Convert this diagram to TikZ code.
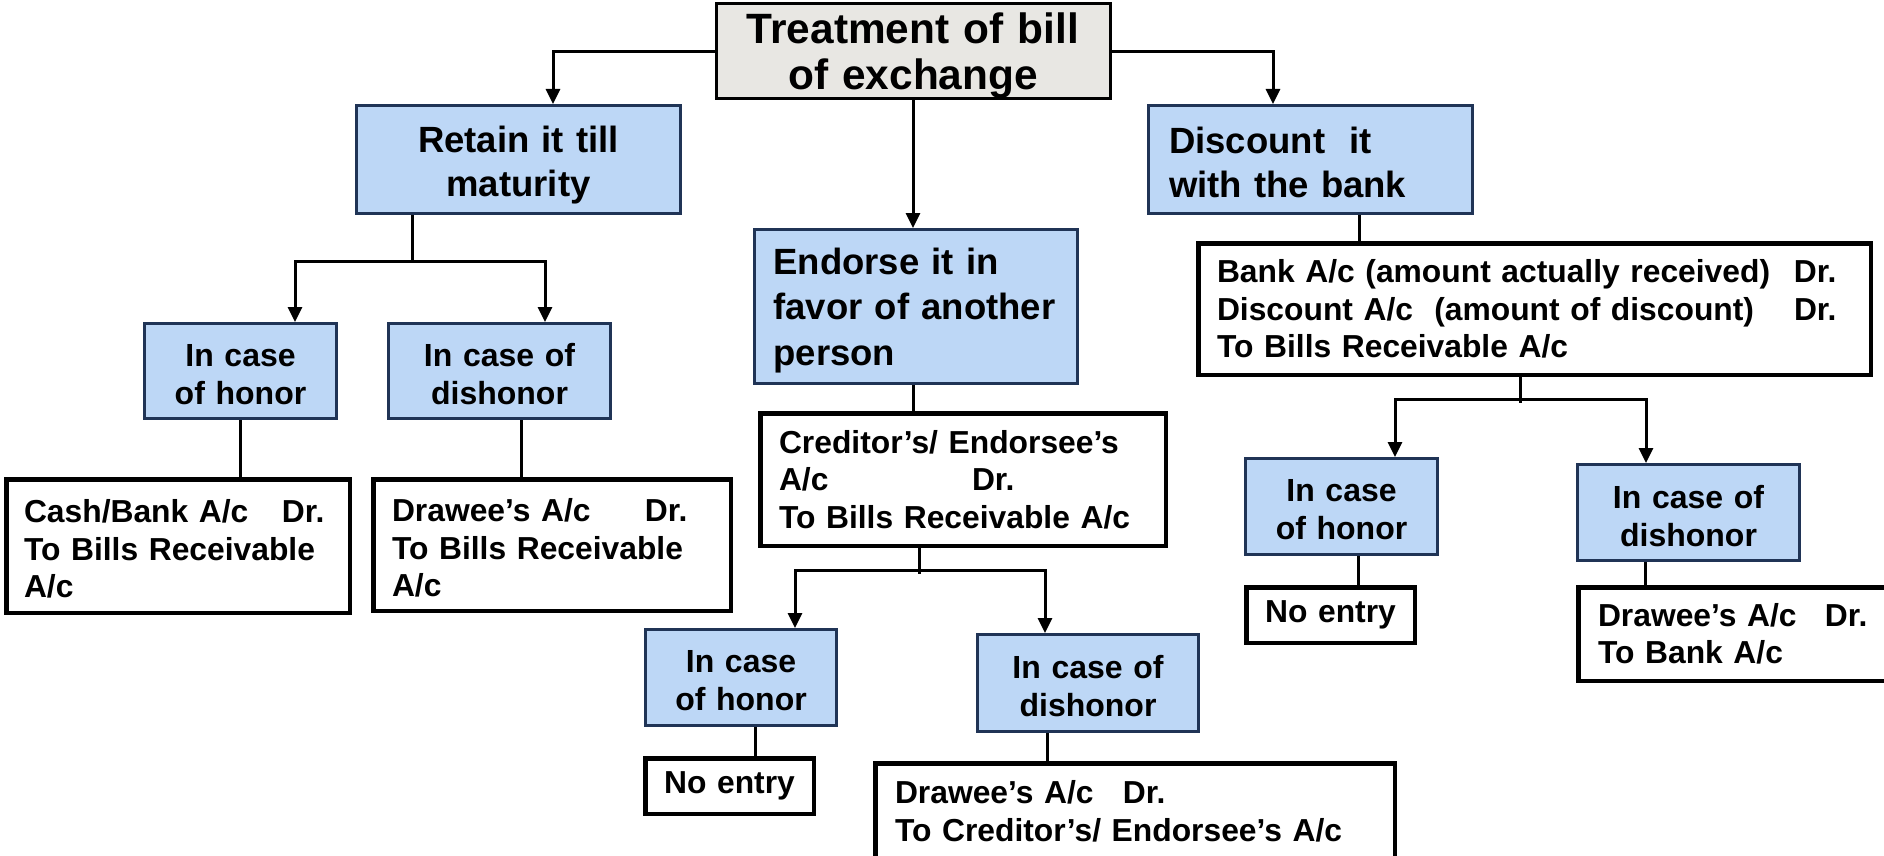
\documentclass[tikz,border=0pt]{standalone}
\usepackage{fontspec}
\setmainfont{Liberation Sans}
\usetikzlibrary{arrows.meta}
\definecolor{boxblue}{RGB}{189,215,246}
\definecolor{boxedge}{RGB}{32,52,86}
\definecolor{rootgray}{RGB}{232,231,227}
\newcommand\myfroot{\fontsize{42.4pt}{46pt}\selectfont}
\newcommand\myfone{\fontsize{36.5pt}{44pt}\selectfont}
\newcommand\myftwo{\fontsize{36.5pt}{45.5pt}\selectfont}
\newcommand\myfcase{\fontsize{32pt}{38pt}\selectfont}
\newcommand\myfent{\fontsize{31.8pt}{37.5pt}\selectfont}
\begin{document}
\begin{tikzpicture}[x=1pt,y=-1pt,
  rootbox/.style={draw=black, line width=3pt, fill=rootgray, align=center, inner ysep=0pt, font=\bfseries\myfroot},
  mainbox/.style={draw=boxedge, line width=3pt, fill=boxblue, inner ysep=0pt, font=\bfseries\myfone},
  casebox/.style={draw=boxedge, line width=3pt, fill=boxblue, inner ysep=0pt, inner xsep=10pt, align=center, text depth=32pt, font=\bfseries\myfcase},
  entrybox/.style={draw=black, line width=4.5pt, fill=white, inner ysep=0pt, align=left, font=\bfseries\myfent},
  noentrybox/.style={entrybox, align=center, inner xsep=9pt, text width=150pt},
  link/.style={line width=3pt, draw=black},
  arrowlink/.style={link, -{Triangle[length=15pt,width=14pt]}},
]
\useasboundingbox (0,0) rectangle (1884,856);
\fill[white] (0,0) rectangle (1884,856);
\clip (0,0) rectangle (1884,856);

% top level
\node[rootbox, minimum width=394pt, minimum height=95pt, text width=370pt, inner xsep=12pt, text depth=47pt] (root) at (913,51.5) {Treatment of bill\\of exchange};

% level one
\node[mainbox, align=center, minimum width=324pt, minimum height=108pt, text width=300pt, inner xsep=12pt, text depth=39.7pt] (retain) at (518.5,159.5) {Retain it till\\maturity};
\node[mainbox, align=left, minimum width=324pt, minimum height=108pt, text width=282pt, inner xsep=21pt, text depth=38pt] (discount) at (1310,159.5) {Discount~~it\\with the bank};
\node[mainbox, font=\bfseries\myftwo, align=left, minimum width=323pt, minimum height=154pt, text width=285pt, inner xsep=19pt, text depth=90.7pt] (endorse) at (916,306.5) {Endorse it in\\favor of another\\person};

% retain branch
\node[casebox, minimum width=192pt, minimum height=95pt, text width=170pt] (honor1) at (240.5,371) {In case\\of honor};
\node[casebox, minimum width=222pt, minimum height=95pt, text width=200pt] (dishonor1) at (499.5,371) {In case of\\dishonor};
\node[entrybox, minimum width=343.5pt, minimum height=133.5pt, text width=308pt, inner xsep=17.75pt, text depth=70pt] (entry1) at (178,546) {\makebox[258pt][l]{Cash/Bank A/c}Dr.\\To Bills Receivable\\A/c};
\node[entrybox, minimum width=357.5pt, minimum height=131.5pt, text width=320pt, inner xsep=18.75pt, text depth=70pt] (entry2) at (552,545) {\makebox[253pt][l]{Drawee’s A/c}Dr.\\To Bills Receivable\\A/c};

% endorse branch
\node[entrybox, minimum width=405.5pt, minimum height=132.5pt, text width=368pt, inner xsep=18.75pt] (entryE) at (963,479.5) {Creditor’s/ Endorsee’s\\\makebox[193pt][l]{A/c}Dr.\\To Bills Receivable A/c};
\node[casebox, minimum width=191pt, minimum height=96pt, text width=170pt] (honor2) at (741,677.5) {In case\\of honor};
\node[casebox, minimum width=221pt, minimum height=97pt, text width=200pt] (dishonor2) at (1088,683) {In case of\\dishonor};
\node[noentrybox, minimum width=168.5pt, minimum height=55.5pt] (noentry2) at (729.5,786) {No entry};
\node[entrybox, minimum width=519.5pt, minimum height=96.5pt, text width=480pt, inner xsep=19.75pt] (entry2b) at (1135,811.5) {\makebox[228pt][l]{Drawee’s A/c}Dr.\\To Creditor’s/ Endorsee’s A/c};

% discount branch
\node[entrybox, minimum width=672.5pt, minimum height=131.5pt, text width=635pt, inner xsep=18.75pt] (entryD) at (1534.5,309) {\makebox[577pt][l]{Bank A/c (amount actually received)}Dr.\\\makebox[577pt][l]{Discount A/c~~(amount of discount)}Dr.\\To Bills Receivable A/c};
\node[casebox, minimum width=192pt, minimum height=96pt, text width=170pt] (honor3) at (1341.5,506.5) {In case\\of honor};
\node[casebox, minimum width=222pt, minimum height=96pt, text width=200pt] (dishonor3) at (1688.5,512.5) {In case of\\dishonor};
\node[noentrybox, minimum width=168.5pt, minimum height=55.5pt] (noentry3) at (1330.5,615) {No entry};
\node[entrybox, minimum width=319.5pt, minimum height=93.5pt, text width=280pt, inner xsep=19.75pt] (entry3) at (1738,634) {\makebox[227pt][l]{Drawee’s A/c}Dr.\\To Bank A/c};

% connector x positions and junctions
\coordinate (xA) at (553,0);
\coordinate (xB) at (1273,0);
\coordinate (rJ) at (412,261);
\coordinate (rL) at (295,261);
\coordinate (rR) at (545,261);
\coordinate (d1) at (521,0);
\coordinate (eS) at (919,574);
\coordinate (eL) at (795,570);
\coordinate (eR) at (1045,570);
\coordinate (h2) at (755,0);
\coordinate (dd2) at (1047,0);
\coordinate (dc) at (1359,0);
\coordinate (dS) at (1520,403);
\coordinate (dL) at (1395,399);
\coordinate (dR) at (1646,399);
\coordinate (h3) at (1358,0);
\coordinate (dd3) at (1645,0);

% root connectors
\draw[arrowlink] (root.west) -| (retain.north -| xA);
\draw[arrowlink] (root.east) -| (discount.north -| xB);
\draw[arrowlink] (root.south) -- (root.south |- endorse.north);

% retain connectors
\draw[link] (retain.south -| rJ) -- (rJ);
\draw[arrowlink] (rJ) -| (honor1.north -| rL);
\draw[arrowlink] (rJ) -| (dishonor1.north -| rR);
\draw[link] (honor1.south) -- (honor1.south |- entry1.north);
\draw[link] (dishonor1.south -| d1) -- (entry2.north -| d1);

% endorse connectors
\draw[link] (endorse.south -| root.south) -- (entryE.north -| root.south);
\draw[link] (entryE.south -| eS) -- (eS);
\draw[arrowlink] (eS |- eL) -| (honor2.north -| eL);
\draw[arrowlink] (eS |- eR) -| (dishonor2.north -| eR);
\draw[link] (honor2.south -| h2) -- (noentry2.north -| h2);
\draw[link] (dishonor2.south -| dd2) -- (entry2b.north -| dd2);

% discount connectors
\draw[link] (discount.south -| dc) -- (entryD.north -| dc);
\draw[link] (entryD.south -| dS) -- (dS);
\draw[arrowlink] (dS |- dL) -| (honor3.north -| dL);
\draw[arrowlink] (dS |- dR) -| (dishonor3.north -| dR);
\draw[link] (honor3.south -| h3) -- (noentry3.north -| h3);
\draw[link] (dishonor3.south -| dd3) -- (entry3.north -| dd3);
\end{tikzpicture}
\end{document}
